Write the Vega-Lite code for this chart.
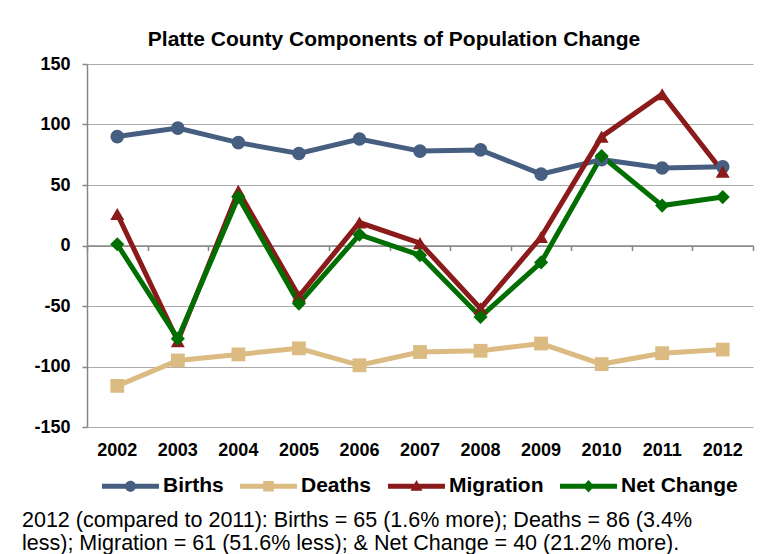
{
  "$schema": "https://vega.github.io/schema/vega-lite/v6.json",
  "width": 666,
  "height": 363,
  "autosize": {"type": "none"},
  "padding": {"left": 87, "top": 64, "right": 11, "bottom": 127},
  "background": "white",
  "config": {
    "font": "Liberation Sans",
    "view": {"stroke": null},
    "axisY": {
      "domainColor": "#868686", "domainWidth": 1.5,
      "tickColor": "#868686", "tickWidth": 1.5, "tickSize": 5,
      "gridColor": "#ABABAB", "gridWidth": 1,
      "labelFontSize": 18, "labelFontWeight": "bold", "labelColor": "#000000",
      "labelPadding": 12, "labelExpr": "'' + datum.value"
    },
    "legend": {
      "orient": "none", "legendX": 15, "legendY": 393.5, "direction": "horizontal", "columns": 4,
      "symbolSize": 3249, "symbolOpacity": 1, "symbolStrokeWidth": 0,
      "labelFontSize": 21, "labelFontWeight": "bold", "labelColor": "#000000", "labelOffset": 4, "columnPadding": 16
    }
  },
  "title": {
    "text": ["2012 (compared to 2011): Births = 65 (1.6% more); Deaths = 86 (3.4%", "less); Migration = 61 (51.6% less); & Net Change = 40 (21.2% more)."],
    "orient": "bottom", "anchor": "start", "frame": "group", "dx": -65,
    "fontSize": 21.5, "fontWeight": "normal", "color": "#000000", "lineHeight": 23, "offset": 13
  },
  "data": {"values": [
    {"year": "2002", "series": "Births", "value": 90},
    {"year": "2003", "series": "Births", "value": 97},
    {"year": "2004", "series": "Births", "value": 85},
    {"year": "2005", "series": "Births", "value": 76},
    {"year": "2006", "series": "Births", "value": 88},
    {"year": "2007", "series": "Births", "value": 78},
    {"year": "2008", "series": "Births", "value": 79},
    {"year": "2009", "series": "Births", "value": 59},
    {"year": "2010", "series": "Births", "value": 71},
    {"year": "2011", "series": "Births", "value": 64},
    {"year": "2012", "series": "Births", "value": 65},
    {"year": "2002", "series": "Deaths", "value": -116},
    {"year": "2003", "series": "Deaths", "value": -95},
    {"year": "2004", "series": "Deaths", "value": -90},
    {"year": "2005", "series": "Deaths", "value": -85},
    {"year": "2006", "series": "Deaths", "value": -99},
    {"year": "2007", "series": "Deaths", "value": -88},
    {"year": "2008", "series": "Deaths", "value": -87},
    {"year": "2009", "series": "Deaths", "value": -81},
    {"year": "2010", "series": "Deaths", "value": -98},
    {"year": "2011", "series": "Deaths", "value": -89},
    {"year": "2012", "series": "Deaths", "value": -86},
    {"year": "2002", "series": "Migration", "value": 26},
    {"year": "2003", "series": "Migration", "value": -79},
    {"year": "2004", "series": "Migration", "value": 45},
    {"year": "2005", "series": "Migration", "value": -42},
    {"year": "2006", "series": "Migration", "value": 19},
    {"year": "2007", "series": "Migration", "value": 2},
    {"year": "2008", "series": "Migration", "value": -52},
    {"year": "2009", "series": "Migration", "value": 7},
    {"year": "2010", "series": "Migration", "value": 90},
    {"year": "2011", "series": "Migration", "value": 125},
    {"year": "2012", "series": "Migration", "value": 61},
    {"year": "2002", "series": "Net Change", "value": 1},
    {"year": "2003", "series": "Net Change", "value": -77},
    {"year": "2004", "series": "Net Change", "value": 40},
    {"year": "2005", "series": "Net Change", "value": -48},
    {"year": "2006", "series": "Net Change", "value": 9},
    {"year": "2007", "series": "Net Change", "value": -8},
    {"year": "2008", "series": "Net Change", "value": -59},
    {"year": "2009", "series": "Net Change", "value": -14},
    {"year": "2010", "series": "Net Change", "value": 74},
    {"year": "2011", "series": "Net Change", "value": 33},
    {"year": "2012", "series": "Net Change", "value": 40}
  ]},
  "layer": [
    {
      "mark": {"type": "line", "strokeWidth": 5},
      "encoding": {
        "x": {"field": "year", "type": "ordinal",
          "scale": {"type": "band", "paddingInner": 0, "paddingOuter": 0},
          "axis": {"orient": "bottom", "domain": false, "ticks": false, "grid": false, "labelAngle": 0,
            "labelFontSize": 18, "labelFontWeight": "bold", "labelColor": "#000000", "labelPadding": 14, "title": null}},
        "y": {"field": "value", "type": "quantitative", "scale": {"domain": [-150, 150], "nice": false},
          "axis": {"values": [-150, -100, -50, 0, 50, 100, 150], "title": null, "grid": true}},
        "color": {"field": "series", "type": "nominal",
          "scale": {"domain": ["Births", "Deaths", "Migration", "Net Change"], "range": ["#465E80", "#DBBB82", "#8B1A1A", "#006E00"]},
          "legend": null}
      }
    },
    {
      "mark": {"type": "point", "filled": true, "opacity": 1},
      "encoding": {
        "x": {"field": "year", "type": "ordinal",
          "axis": {"orient": "bottom", "offset": -181.5, "labels": false, "domain": true, "domainColor": "#868686", "domainWidth": 1.5,
            "ticks": true, "tickBand": "extent", "tickSize": 5, "tickColor": "#868686", "tickWidth": 1.5, "grid": false, "title": null}},
        "y": {"field": "value", "type": "quantitative", "scale": {"domain": [-150, 150], "nice": false},
          "axis": {"values": [-150, -100, -50, 0, 50, 100, 150], "title": null, "grid": true}},
        "color": {"field": "series", "type": "nominal",
          "scale": {"domain": ["Births", "Deaths", "Migration", "Net Change"], "range": ["#465E80", "#DBBB82", "#8B1A1A", "#006E00"]},
          "legend": null},
        "shape": {"field": "series", "type": "nominal",
          "scale": {"domain": ["Births", "Deaths", "Migration", "Net Change"], "range": ["circle", "square", "triangle-up", "diamond"]},
          "legend": null},
        "size": {"field": "series", "type": "nominal",
          "scale": {"domain": ["Births", "Deaths", "Migration", "Net Change"], "range": [185, 200, 270, 220]},
          "legend": null}
      }
    },
    {
      "mark": {"type": "point", "filled": true, "opacity": 0},
      "encoding": {
        "x": {"field": "year", "type": "ordinal",
          "axis": {"orient": "top", "domain": false, "ticks": false, "labels": false, "grid": false,
            "title": "Platte County Components of Population Change", "titleFontSize": 21, "titleFontWeight": "bold",
            "titleColor": "#000000", "titleBaseline": "alphabetic", "titlePadding": 18.5, "titleX": 306.5, "titleAlign": "center"}},
        "y": {"field": "value", "type": "quantitative", "scale": {"domain": [-150, 150], "nice": false},
          "axis": {"values": [-150, -100, -50, 0, 50, 100, 150], "title": null, "grid": true}},
        "color": {"field": "series", "type": "nominal",
          "scale": {"domain": ["Births", "Deaths", "Migration", "Net Change"], "range": ["#465E80", "#DBBB82", "#8B1A1A", "#006E00"]},
          "legend": {"title": null}},
        "shape": {"field": "series", "type": "nominal",
          "scale": {"domain": ["Births", "Deaths", "Migration", "Net Change"],
            "range": [
              "M-1,-0.088H1V0.088H-1Z M-0.193,0A0.193,0.193 0 1,1 0.193,0A0.193,0.193 0 1,1 -0.193,0Z",
              "M-1,-0.088H1V0.088H-1Z M-0.186,-0.186H0.186V0.186H-0.186Z",
              "M-1,-0.088H1V0.088H-1Z M0,-0.22L0.21,0.16H-0.21Z",
              "M-1,-0.088H1V0.088H-1Z M0,-0.22L0.2,0L0,0.22L-0.2,0Z"
            ]},
          "legend": {"title": null}}
      }
    }
  ],
  "resolve": {"axis": {"x": "independent"}, "scale": {"shape": "independent", "color": "independent"}}
}
